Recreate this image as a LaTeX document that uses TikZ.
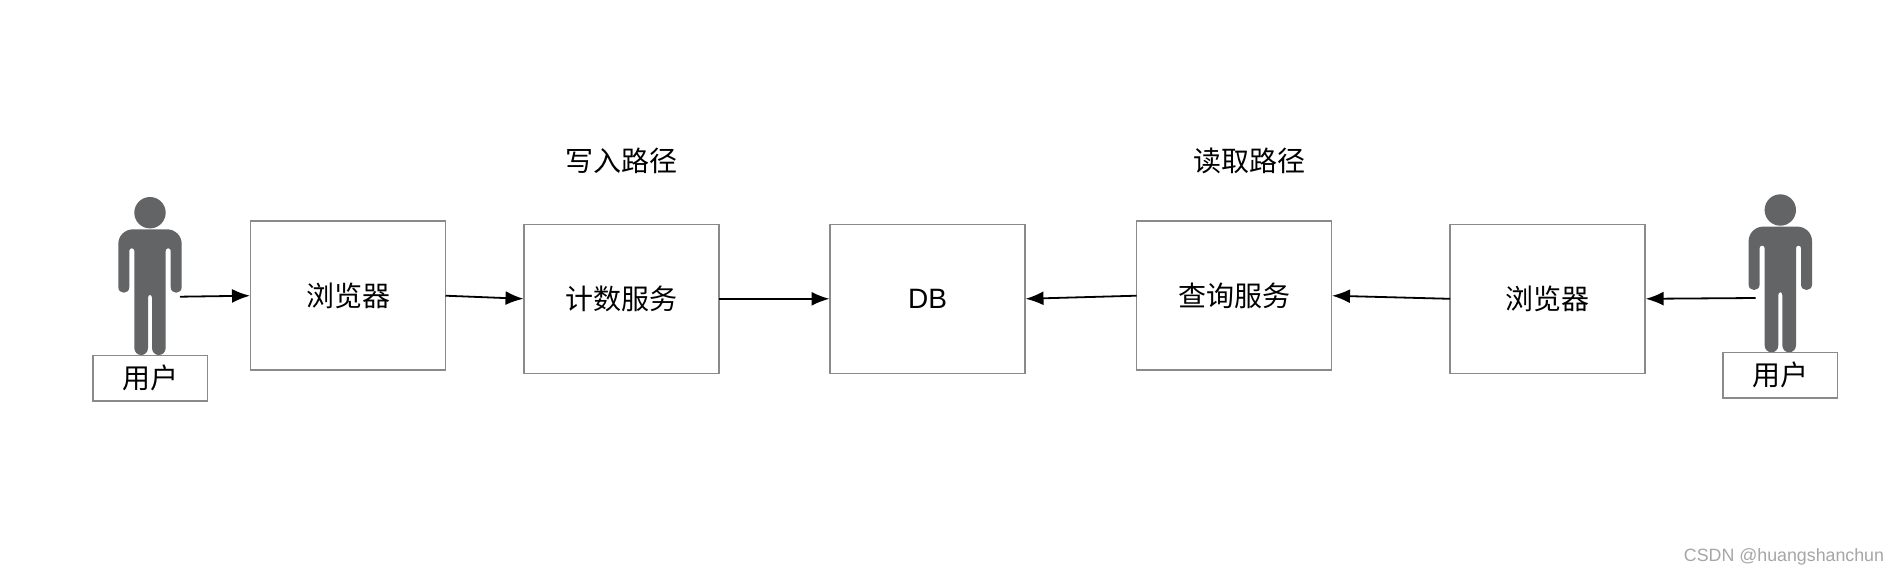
\documentclass[tikz,border=0pt]{standalone}
\usepackage{fontspec}
\setmainfont{Liberation Sans}
\newfontfamily\cjk{Noto Sans CJK SC}
\usetikzlibrary{arrows.meta}
\definecolor{boxgray}{HTML}{8A8A8A}
\definecolor{figgray}{HTML}{636466}
\tikzset{
  x=1pt,y=-1pt,
  box/.style={draw=boxgray,line width=1.5pt,fill=white,minimum width=195pt,minimum height=149pt,inner sep=0pt,outer sep=0pt,font=\cjk\fontsize{28}{30}\selectfont},
  userbox/.style={draw=boxgray,line width=1.5pt,fill=white,minimum width=114.5pt,minimum height=45.5pt,inner sep=0pt,outer sep=0pt,font=\cjk\fontsize{28}{30}\selectfont},
  pathlabel/.style={inner sep=0pt,font=\cjk\fontsize{28}{30}\selectfont},
  flow/.style={draw=black,line width=1.8pt,-{Latex[length=18pt,width=14pt]},shorten >=0.5pt},
  person/.pic={
    \fill[figgray] (0,0) circle[radius=15.7];
    \fill[figgray] (-17,16.6) -- (17,16.6) .. controls (25,16.6) and (31.7,23) .. (31.7,31) -- (31.7,74.5)
      .. controls (31.7,78) and (29,80) .. (26.2,80) .. controls (23.4,80) and (20.7,78) .. (20.7,74.5)
      -- (20.7,38) .. controls (20.7,36.4) and (19.5,35.6) .. (18.2,35.6) .. controls (16.9,35.6) and (15.7,36.4) .. (15.7,38)
      -- (15.7,135) .. controls (15.7,139.5) and (12.5,142.3) .. (8.8,142.3) .. controls (5,142.3) and (2,139.5) .. (2,135)
      -- (2,85) .. controls (2,83) and (1,82.3) .. (0,82.3) .. controls (-1,82.3) and (-2,83) .. (-2,85)
      -- (-2,135) .. controls (-2,139.5) and (-5,142.3) .. (-8.8,142.3) .. controls (-12.5,142.3) and (-15.7,139.5) .. (-15.7,135)
      -- (-15.7,38) .. controls (-15.7,36.4) and (-16.9,35.6) .. (-18.2,35.6) .. controls (-19.5,35.6) and (-20.7,36.4) .. (-20.7,38)
      -- (-20.7,74.5) .. controls (-20.7,78) and (-23.4,80) .. (-26.2,80) .. controls (-29,80) and (-31.7,78) .. (-31.7,74.5)
      -- (-31.7,31) .. controls (-31.7,23) and (-25,16.6) .. (-17,16.6) -- cycle;
  }
}
\begin{document}
\begin{tikzpicture}
\useasboundingbox (0,0) rectangle (1898,574);
\fill[white] (0,0) rectangle (1898,574);
\pic at (150,212.7) {person};
\pic at (1780.3,210) {person};
\node[userbox] (u1) at (150,378) {\raisebox{1pt}{用户}};
\node[userbox] (u2) at (1780.3,375) {\raisebox{1pt}{用户}};
\node[box] (b1) at (348,295.7) {\raisebox{-1pt}{浏览器}};
\node[box] (c) at (621.5,298.8) {\raisebox{-1pt}{计数服务}};
\node[box] (db) at (927.5,298.8) {\raisebox{-1pt}{\fontspec{Liberation Sans}DB}};
\node[box] (q) at (1234,295.7) {\raisebox{-1pt}{查询服务}};
\node[box] (b2) at (1547.6,298.8) {\raisebox{-1pt}{浏览器}};
\node[pathlabel] (w) at (621,161) {写入路径};
\node[pathlabel] (r) at (1249,161) {读取路径};
\node[inner sep=0pt,text=black!35,font=\fontsize{17.8}{20}\selectfont] (wm) at (1784,557) {CSDN @huangshanchun};
\coordinate (p1) at (180,296.7);
\coordinate (p2) at (1755.5,298);
\draw[flow] (p1) -- (b1.west);
\draw[flow] (b1.east) -- (c.west);
\draw[flow] (c.east) -- (db.west);
\draw[flow] (q.west) -- (db.east);
\draw[flow] (b2.west) -- (q.east);
\draw[flow] (p2) -- (b2.east);
\end{tikzpicture}
\end{document}
